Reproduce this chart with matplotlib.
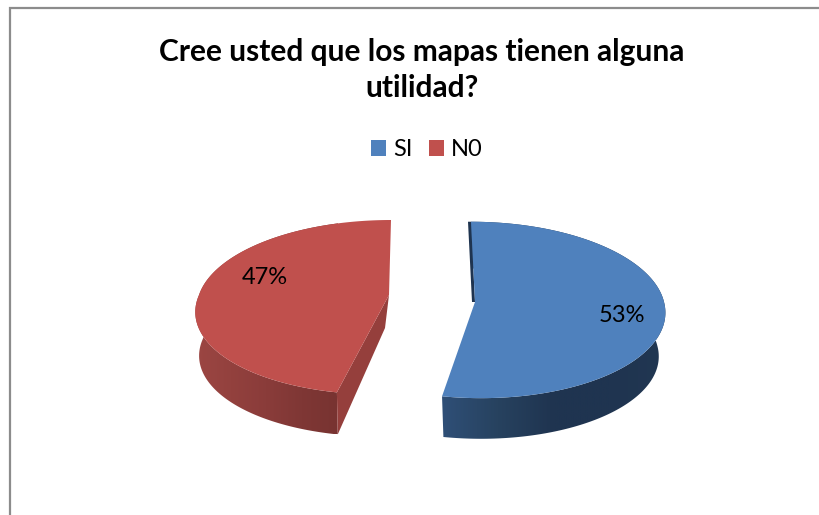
from matplotlib import pyplot as plt
from matplotlib.patches import Patch, Polygon
from matplotlib.colors import LinearSegmentedColormap
import numpy as np

categories = ["SI", "N0"]
values = [53, 47]
pct_labels = ["53%", "47%"]
title = "Cree usted que los mapas tienen alguna\nutilidad?"
colors = ["#4f81bd", "#c0504d"]

plt.rcParams['font.family'] = ['Lato', 'DejaVu Sans']

fig = plt.figure(figsize=(8.2, 5.15), dpi=100)
ax = fig.add_axes([0, 0, 1, 1])

# the pie gives the slice angles, then each one is squashed by hand into the fake 3d look
wedges, _ = ax.pie(values, startangle=90, counterclock=False, colors=colors)
thetas = [(w.theta1, w.theta2) for w in wedges]
for w in wedges:
    w.remove()

ax.set_aspect('auto')
ax.set_xlim(0, 820)
ax.set_ylim(515, 0)
ax.axis('off')

# apex x, apex y, rx, ry, perspective, shear above, shear below
shapes = [
    (475, 302, 189, 87.5, 0.09, -4, -6),
    (389, 295, 190, 85.5, 0.14, 2, 11),
]
depth = 44
shrink = [0.965, 0.98]
wall_stops = [
    ["#2f4f77", "#27425f", "#1f3450", "#1f3450", "#213752"],
    ["#9c4643", "#93413e", "#8a3c3a", "#7f3735", "#783331"],
]
radial_wall = ["#1f3450", "#953f3c"]


def project(shape, thetas_deg, scale=1.0, down=0.0):
    x0, y0, rx, ry, k, s_up, s_dn = shape
    t = np.radians(thetas_deg)
    u, v = np.cos(t), np.sin(t)
    w = 1 + k * v
    x = x0 + scale * rx * u / w + s_up * np.maximum(v, 0) + s_dn * np.minimum(v, 0)
    y = y0 - scale * ry * v / w + down
    return x, y


def gradient_fill(xs, ys, stops, zorder):
    poly = Polygon(np.column_stack([xs, ys]), closed=True, fc='none', ec='none', zorder=zorder)
    ax.add_patch(poly)
    cmap = LinearSegmentedColormap.from_list("wall", stops)
    front_x = xs[ys > shape[1]]
    im = ax.imshow(np.linspace(0, 1, 256).reshape(1, -1), cmap=cmap, aspect='auto',
                   extent=[front_x.min(), front_x.max(), ys.max(), ys.min()], zorder=zorder)
    im.set_clip_path(poly)


for i in range(len(values)):
    shape = shapes[i]
    angles = np.linspace(thetas[i][0], thetas[i][1], 200)
    x_top, y_top = project(shape, angles)
    x_bot, y_bot = project(shape, angles, scale=shrink[i], down=depth)
    apex = (shape[0], shape[1])

    # outer side wall, the top face hides whatever is behind it
    wall_x = np.concatenate([x_top, x_bot[::-1]])
    wall_y = np.concatenate([y_top, y_bot[::-1]])
    gradient_fill(wall_x, wall_y, wall_stops[i], 2)

    # which end of the arc is the front cut and which the back one
    front_end = int(np.argmax(y_top[[0, -1]])) * -1
    back_end = -1 - front_end
    if i == 1:
        # red shows the cut face on its right
        ax.add_patch(Polygon([(x_top[front_end], y_top[front_end]), apex, (apex[0] - 4, apex[1] + 33),
                              (x_bot[front_end], y_bot[front_end])], closed=True,
                             fc=radial_wall[i], ec='none', zorder=2.5))
    else:
        # blue only shows a thin dark strip at the back
        ax.add_patch(Polygon([(x_top[back_end] - 3, y_top[back_end]), (x_top[back_end], y_top[back_end]),
                              apex, (apex[0] - 3, apex[1])],
                             closed=True, fc=radial_wall[i], ec='none', zorder=2.5))

    ax.add_patch(Polygon(np.column_stack([np.append(x_top, apex[0]), np.append(y_top, apex[1])]),
                         closed=True, fc=colors[i], ec='none', zorder=3))

ax.text(622, 315, pct_labels[0], ha='center', va='center', fontsize=17, color='black', zorder=4)
ax.text(265, 278, pct_labels[1], ha='center', va='center', fontsize=17, color='black', zorder=4)

ax.text(422, 70, title, ha='center', va='center', fontsize=21.5, fontweight='bold',
        color='black', linespacing=1.38)

handles = [Patch(facecolor=c, edgecolor='none') for c in colors]
ax.legend(handles, categories, ncol=2, frameon=False, loc='center',
          bbox_to_anchor=(427 / 820, 1 - 150 / 515), fontsize=17,
          handlelength=0.64, handleheight=0.64, handletextpad=0.28, columnspacing=0.72)

# chart frame, only the left and top edges are inside the screenshot
ax.plot([10, 10, 820], [515, 8, 8], color='#8c8c8c', lw=1.6, solid_joinstyle='miter', zorder=1)

ax.set_xlim(0, 820)
ax.set_ylim(515, 0)
fig.savefig("out.png", dpi=100, facecolor='white')
